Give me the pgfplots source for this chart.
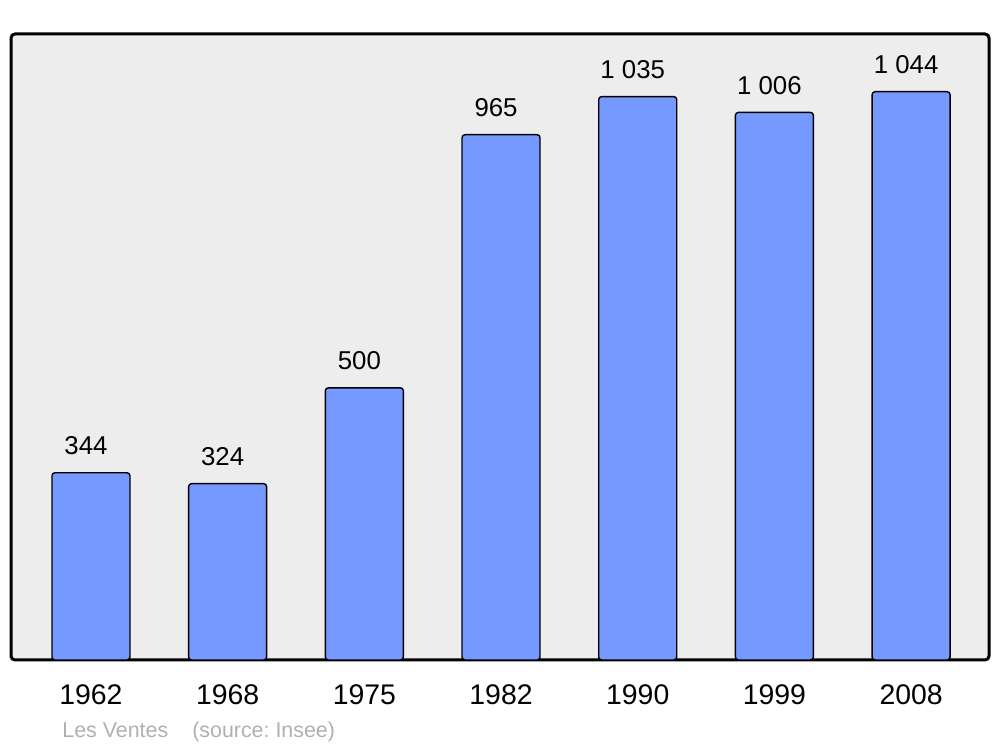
\documentclass[border=0pt]{standalone}
\usepackage{pgfplots}
\pgfplotsset{compat=1.18}
\usepackage{fontspec}
\setmainfont{Liberation Sans}
\frenchspacing
\definecolor{barblue}{HTML}{7599FF}
\definecolor{bggray}{HTML}{EDEDED}
\definecolor{foot}{HTML}{B0B0B0}
\begin{document}
\begin{tikzpicture}
\path[use as bounding box] (-5.5pt,-43.5pt) rectangle (494.5pt,330pt);
\begin{axis}[
  at={(0,0)}, anchor=south west,
  scale only axis,
  width=489pt, height=313pt,
  xmin=-0.585, xmax=6.57,
  ymin=0, ymax=1150,
  axis background/.style={fill=bggray},
  axis line style={line width=1.5pt, rounded corners=2pt},
  ytick=\empty,
  xtick=data,
  xticklabels={1962,1968,1975,1982,1990,1999,2008},
  major tick length=0pt,
  xticklabel style={anchor=base, yshift=-22.5pt, font=\fontsize{14.2}{16}\selectfont},
  clip=false,
  point meta=explicit symbolic,
  nodes near coords,
  nodes near coords style={anchor=base, yshift=9pt, xshift=-2.5pt, font=\fontsize{12.9}{14}\selectfont, text=black},
]
\addplot[ybar, bar width=39pt, fill=barblue, draw=black, line width=0.7pt, rounded corners=1.5pt]
  coordinates {(0,344)[344] (1,324)[324] (2,500)[500] (3,965)[965] (4,1035)[1 035] (5,1006)[1 006] (6,1044)[1 044]};
\node[anchor=base west, text=foot, font=\fontsize{10.7}{12}\selectfont, inner sep=0pt] at ([xshift=25.5pt, yshift=-39pt]axis cs:-0.585,0) {Les Ventes\hspace{12pt}(source: Insee)};
\end{axis}
\end{tikzpicture}
\end{document}
